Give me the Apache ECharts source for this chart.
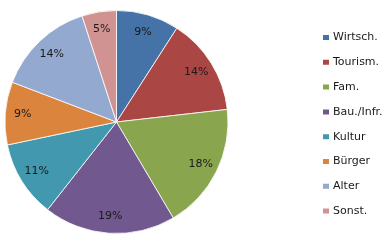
<!DOCTYPE html>
<html><head><meta charset="utf-8">
<script src="https://cdn.jsdelivr.net/npm/echarts@6/dist/echarts.min.js"></script>
<style>html,body{margin:0;padding:0;background:#fff}#c{width:387px;height:244px}</style>
</head><body><div id="c"></div>
<script>
var categories = ['Wirtsch.', 'Tourism.', 'Fam.', 'Bau./Infr.', 'Kultur', 'Bürger', 'Alter', 'Sonst.'];
var values = [9.1, 14.1, 18.3, 19.1, 11.1, 9.1, 14.2, 5.0];
var colors = ['#4572A7', '#AA4643', '#89A54E', '#71588F', '#4198AF', '#DB843D', '#93A9CF', '#D19392'];

var data = categories.map(function (n, i) { return { name: n, value: values[i] }; });
var chart = echarts.init(document.getElementById('c'), null, { renderer: 'canvas' });
chart.setOption({
  animation: false,
  color: colors,
  legend: {
    orient: 'vertical', left: 316, top: 27,
    icon: 'rect', itemWidth: 8, itemHeight: 7, itemGap: 13.8,
    textStyle: { fontFamily: 'DejaVu Sans', fontSize: 11, color: '#1a1a1a', padding: [0, 0, 0, -2] },
    data: categories
  },
  series: [{
    type: 'pie', center: [116.5, 122], radius: [0, 111.5],
    startAngle: 90, clockwise: true, silent: true,
    itemStyle: { borderColor: '#fff', borderWidth: 0.8 },
    label: { show: false }, labelLine: { show: false },
    data: data
  }, {
    type: 'pie', center: [116.5, 122], radius: [70, 112],
    startAngle: 90, clockwise: true, silent: true,
    itemStyle: { color: 'rgba(0,0,0,0)', borderWidth: 0 },
    label: {
      show: true, position: 'inside', fontFamily: 'DejaVu Sans', fontSize: 11, color: '#1a1a1a',
      formatter: function (p) { return Math.round(p.value) + '%'; }
    },
    labelLine: { show: false },
    data: data
  }]
});
</script></body></html>
